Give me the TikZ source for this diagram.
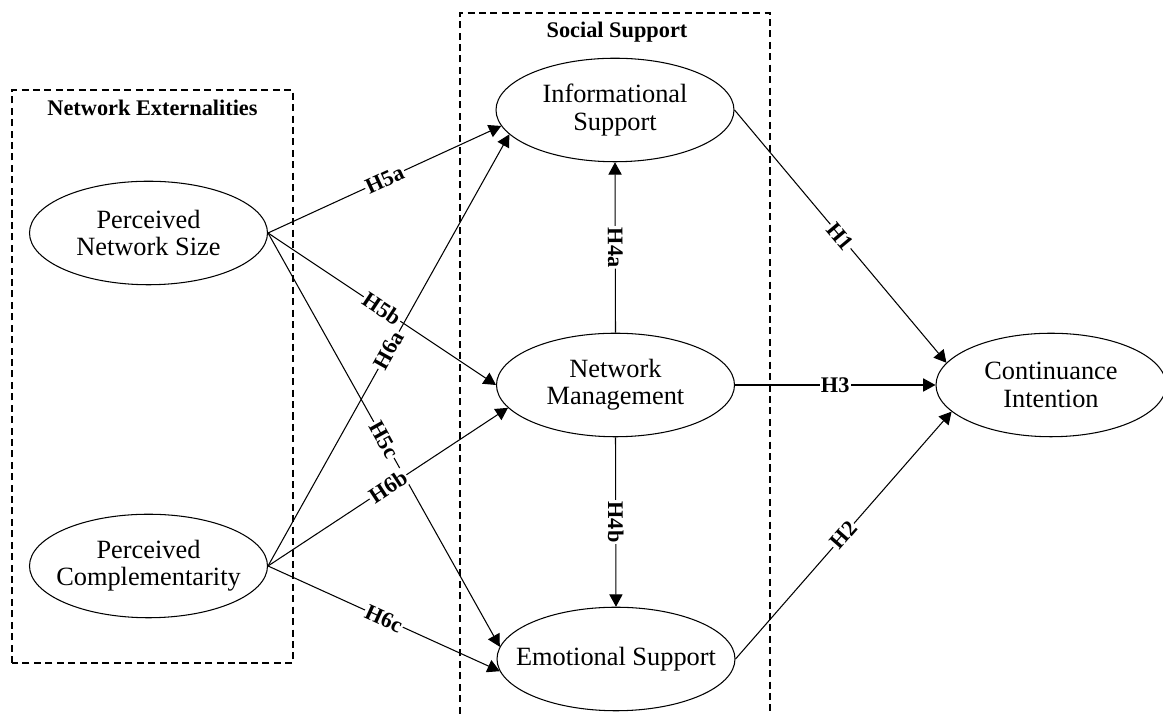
\documentclass[tikz,border=0pt]{standalone}
\usepackage{fontspec}
\setmainfont{Liberation Serif}
\usetikzlibrary{arrows.meta,shapes.geometric}

\begin{document}
\begin{tikzpicture}[
  >={Triangle[length=7pt,width=7.5pt]}, line width=0.6pt,
  latent/.style={draw, ellipse, minimum width=4.76cm, minimum height=2.07cm,
                 inner xsep=-0.8cm, inner ysep=0pt, align=center,
                 font=\fontsize{15}{15.6}\selectfont},
  grp/.style={draw, dash pattern=on 4pt off 2.5pt},
  grptitle/.style={font=\fontsize{12.7}{14}\selectfont\bfseries},
  hyp/.style={fill=white, inner sep=0.8pt, sloped,
              font=\fontsize{12.7}{14}\selectfont\bfseries},
  arr/.style={->}
]
\useasboundingbox (0,0) rectangle (23.26,14.3);

%% Groups
\draw[grp] (0.24,1.04) rectangle (5.86,12.5);
\node[grptitle] (netext) at (3.05,12.14) {Network Externalities};
\draw[grp] (9.2,-0.2) |- (15.4,14.04) -- (15.4,-0.2);
\node[grptitle] (socsup) at (12.34,13.66) {Social Support};

%% Constructs
\node[latent] (pns) at (2.97,9.64) {Perceived\\Network Size};
\node[latent] (pc)  at (2.97,2.98) {Perceived\\Complementarity};
\node[latent] (is)  at (12.3,12.1) {Informational\\Support};
\node[latent] (nm)  at (12.31,6.6) {Network\\Management};
\node[latent] (es)  at (12.32,1.12) {Emotional Support};
\node[latent, minimum width=4.6cm] (ci) at (21.02,6.6) {Continuance\\Intention};

%% Network externalities -> social support
\draw[arr] (pns.east) -- node[hyp] {H5a} (is.188);
\draw[arr] (pns.east) -- node[hyp] {H5b} (nm.west);
\draw[arr] (pns.east) -- node[hyp] {H5c} (es.174);
\draw[arr] (pc.east) -- node[hyp] {H6a} (is.193);
\draw[arr] (pc.east) -- node[hyp] {H6b} (nm.192);
\draw[arr] (pc.east) -- node[hyp] {H6c} (es.186);

%% Within social support
\draw[arr] (nm.north) -- node[hyp] {H4a} (is.south);
\draw[arr] (nm.south) -- node[hyp] {H4b} (es.north);

%% Continuance intention
\draw[arr] (is.east) -- node[hyp] {H1} (ci.168);
\draw[arr] (nm.east) -- node[hyp] {H3} (ci.west);
\draw[arr] (es.east) -- node[hyp] {H2} (ci.195);

\end{tikzpicture}
\end{document}
